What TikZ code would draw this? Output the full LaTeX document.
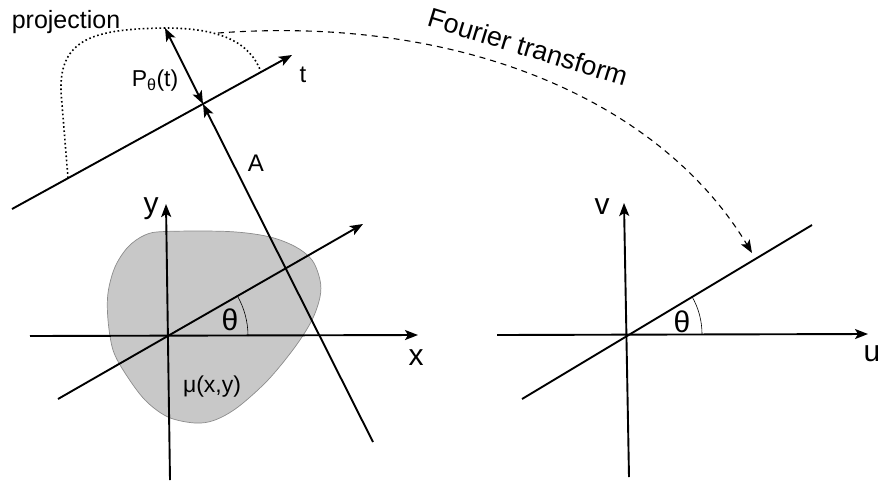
\documentclass[tikz,border=0pt]{standalone}
\usepackage{fontspec}
\setmainfont{Liberation Sans}
\usetikzlibrary{arrows.meta}
\begin{document}
\begin{tikzpicture}[x=1pt,y=-1pt,
  axis/.style={line width=1.9pt},
  arr/.style={axis,-{Stealth[length=13pt,width=10pt,inset=3pt]}},
  dblarr/.style={axis,{Stealth[length=13pt,width=10pt,inset=3pt]}-{Stealth[length=13pt,width=10pt,inset=3pt]}},
  fourierarr/.style={line width=1.1pt,dash pattern=on 6pt off 5pt,-{Stealth[length=13pt,width=10pt,inset=3pt]}},
  projcurve/.style={line width=1.6pt,dash pattern=on 1.6pt off 2.6pt},
  anglearc/.style={line width=0.6pt},
  blob/.style={fill={rgb,255:red,200;green,200;blue,200},draw={rgb,255:red,140;green,140;blue,140},line width=0.7pt},
  biglbl/.style={font=\fontsize{30}{36}\selectfont,inner sep=0pt},
  midlbl/.style={font=\fontsize{24}{29}\selectfont,inner sep=0pt},
  smalllbl/.style={font=\fontsize{23}{27}\selectfont,inner sep=0pt}
]
\useasboundingbox (0,0) rectangle (878,483);

% object
\draw[blob] plot[smooth cycle,tension=0.55] coordinates {(165,231.5) (228,231.5) (268,236.5) (295,246.5) (312,260) (320,280) (320,297) (312,320) (295,347) (268,380) (238,407) (215,420) (195,423) (168,417) (145,400) (125,373) (113,350) (108,320) (108,293) (115,267) (128,247) (145,235)};

% left coordinates
\coordinate (O1) at (167,336);
\coordinate (xs) at (30,336);
\coordinate (xe) at (418,335);
\coordinate (ys) at (170,480);
\coordinate (ye) at (166,204);
\coordinate (rs) at (58,399);
\coordinate (re) at (363,224);
\coordinate (As) at (373,442);
\coordinate (I) at (203,104);
\coordinate (ts) at (12,209);
\coordinate (te) at (292,55);
\coordinate (Pt) at (165,28);
\coordinate (c1) at (68,178);
\coordinate (c2) at (61,92);
\coordinate (c3) at (261,72);
\coordinate (Fs) at (218,33);

% right coordinates
\coordinate (O2) at (627,334);
\coordinate (us) at (497,335);
\coordinate (ue) at (868,334);
\coordinate (vs) at (629,477);
\coordinate (ve) at (624,203);
\coordinate (ws) at (522,399);
\coordinate (we) at (812,225);
\coordinate (Fe) at (752,253);

% left axes
\draw[arr] (xs) -- (xe);
\draw[arr] (ys) -- (ye);
\draw[arr] (rs) -- (re);
\draw[arr] (As) -- (I);
\draw[arr] (ts) -- (te);
\draw[dblarr] (Pt) -- (I);
\draw[anglearc] ([shift={(0:81)}]O1) arc[start angle=0,end angle=-30,radius=81];

% projection curve
\draw[projcurve] (c1) -- (c2) .. controls (59,38) and (95,29) .. (Pt) .. controls (220,28) and (250,42) .. (c3);

% Fourier arrow
\draw[fourierarr] (Fs) .. controls (460,15) and (660,100) .. (Fe);

% right axes
\draw[arr] (us) -- (ue);
\draw[arr] (vs) -- (ve);
\draw[axis] (ws) -- (we);
\draw[anglearc] ([shift={(0:75)}]O2) arc[start angle=0,end angle=-30,radius=75];

% labels
\node[font=\fontsize{25}{30}\selectfont,inner sep=0pt] (lproj) at (66,22) {projection};
\node[smalllbl] (lP) at (155,81) {P\textsubscript{θ}(t)};
\node[midlbl] (lt) at (303,75) {t};
\node[midlbl] (lA) at (256,163) {A};
\node[biglbl] (lx) at (416,358) {x};
\node[biglbl] (ly) at (151,209) {y};
\node[biglbl] (lth1) at (230,320) {θ};
\node[smalllbl] (lmu) at (212,387) {μ(x,y)};
\node[font=\fontsize{27}{32}\selectfont,inner sep=0pt,rotate=-17] (lF) at (528,47) {Fourier transform};
\node[biglbl] (lu) at (872,354) {u};
\node[biglbl] (lv) at (602,207) {v};
\node[biglbl] (lth2) at (682,322) {θ};
\end{tikzpicture}
\end{document}
